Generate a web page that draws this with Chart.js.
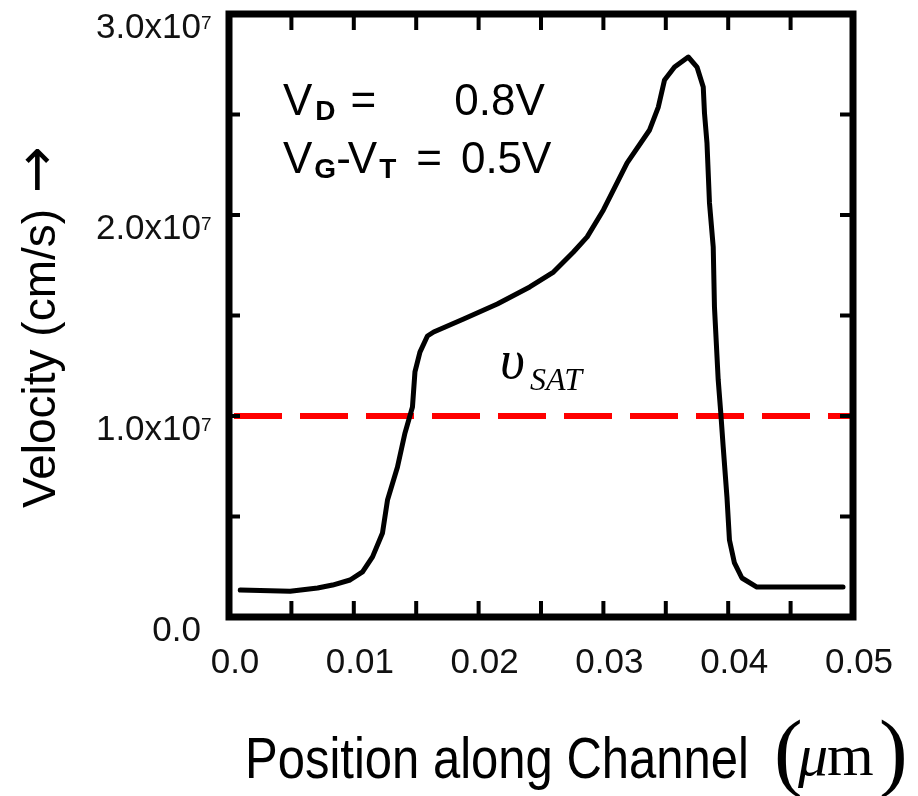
<!DOCTYPE html>
<html>
<head>
<meta charset="utf-8">
<script src="https://cdn.jsdelivr.net/npm/chart.js@4.4.1/dist/chart.umd.min.js"></script>
<style>
  html, body { margin: 0; padding: 0; background: #fff; }
</style>
</head>
<body>
<canvas id="velocity" width="918" height="796"></canvas>
<script>
// position along the channel (um) and carrier velocity (cm/s)
const position = [0.0009, 0.0049, 0.0071, 0.0083, 0.0097, 0.0107, 0.0115, 0.0123, 0.0127, 0.0135,
   0.0141, 0.0147, 0.0149, 0.0153, 0.0159, 0.0164, 0.0188, 0.0215, 0.0241, 0.0260,
   0.0276, 0.0287, 0.0300, 0.0319, 0.0337, 0.0344, 0.0349, 0.0357, 0.0368, 0.0375,
   0.0380, 0.0381, 0.0383, 0.0385, 0.0388, 0.0389, 0.0392, 0.0394, 0.0396, 0.0399,
   0.0401, 0.0405, 0.0411, 0.0423, 0.0492];
const velocity = [1.34e6, 1.28e6, 1.44e6, 1.59e6, 1.84e6, 2.24e6, 2.99e6, 4.18e6, 5.82e6, 7.46e6,
   9.15e6, 1.045e7, 1.219e7, 1.318e7, 1.398e7, 1.418e7, 1.483e7, 1.557e7, 1.642e7, 1.716e7,
   1.816e7, 1.891e7, 2.025e7, 2.259e7, 2.423e7, 2.537e7, 2.672e7, 2.736e7, 2.786e7, 2.736e7,
   2.637e7, 2.507e7, 2.358e7, 2.060e7, 1.841e7, 1.542e7, 1.179e7, 1.020e7, 8.46e6, 5.97e6,
   3.83e6, 2.69e6, 1.94e6, 1.49e6, 1.49e6];

// saturation velocity line
const satPosition = [0, 0.05];
const satVelocity = [1.0e7, 1.0e7];

const xTickLabels = ['0.0', '0.01', '0.02', '0.03', '0.04', '0.05'];
const yTickLabels = ['0.0', '1.0x10', '2.0x10', '3.0x10'];
const yTickExponent = ['', '7', '7', '7'];

const sans = 'Liberation Sans';
const serif = 'Liberation Serif';

// draws pieces of text one after another on the same baseline
function runText(ctx, x, y, parts) {
   parts.forEach(p => {
      ctx.font = p.font;
      x += p.gap || 0;
      ctx.fillText(p.text, x, y + (p.dy || 0));
      x += ctx.measureText(p.text).width;
   });
}

// box, inward ticks, exponents and the labels inside / around the plot
const frame = {
   id: 'frame',
   afterDatasetsDraw(chart) {
      const { ctx, chartArea: a, scales: { x, y } } = chart;
      ctx.save();
      ctx.strokeStyle = '#000';
      ctx.lineWidth = 4;
      ctx.beginPath();
      x.ticks.forEach(t => {
         const px = x.getPixelForValue(t.value);
         ctx.moveTo(px, a.bottom); ctx.lineTo(px, a.bottom - 16);
         ctx.moveTo(px, a.top); ctx.lineTo(px, a.top + 16);
      });
      y.ticks.forEach(t => {
         const py = y.getPixelForValue(t.value);
         ctx.moveTo(a.left, py); ctx.lineTo(a.left + 11, py);
         ctx.moveTo(a.right, py); ctx.lineTo(a.right - 13, py);
      });
      ctx.stroke();
      ctx.lineWidth = 7;
      ctx.strokeRect(a.left, a.top, a.right - a.left, a.bottom - a.top);

      ctx.fillStyle = '#111';
      ctx.textAlign = 'left';
      ctx.textBaseline = 'alphabetic';

      // exponents of the y tick labels
      ctx.font = '19px ' + sans;
      y.ticks.forEach(t => {
         const k = Math.round(t.value / 5e6);
         if (k % 2) return;
         const py = y.getPixelForValue(t.value);
         ctx.fillText(yTickExponent[k / 2], a.left - 28, py + 15);
      });

      ctx.fillStyle = '#000';
      const big = '44px ' + sans;
      const sub = 'bold 28px ' + sans;
      const x0 = a.left + 54;
      runText(ctx, x0, a.top + 101, [
         { text: 'V', font: big },
         { text: 'D', font: sub, dy: 5, gap: 3 },
         { text: '=', font: big, gap: 15 },
         { text: '0.8V', font: big, gap: 78 }
      ]);
      runText(ctx, x0, a.top + 159, [
         { text: 'V', font: big },
         { text: 'G', font: sub, dy: 5, gap: 2 },
         { text: '-', font: big },
         { text: 'V', font: big, gap: -3 },
         { text: 'T', font: sub, dy: 5, gap: 2 },
         { text: '=', font: big, gap: 20 },
         { text: '0.5V', font: big, gap: 19 }
      ]);

      // v_SAT label
      ctx.font = 'italic 54px ' + serif;
      ctx.fillText('\u03c5', a.left + 271, a.top + 364);
      ctx.font = 'italic 32px ' + serif;
      ctx.fillText('SAT', a.left + 301, a.top + 376);

      // y axis title
      ctx.save();
      ctx.translate(55, 508);
      ctx.rotate(-Math.PI / 2);
      runText(ctx, 0, 0, [
         { text: 'Velocity (cm/s)', font: '46px ' + sans },
         { text: '\u2192', font: '56px DejaVu Sans', gap: 16 }
      ]);
      ctx.restore();

      // x axis title, slightly tall like the original lettering
      ctx.save();
      ctx.translate(a.left + 16, 778);
      ctx.scale(1, 1.18);
      ctx.font = '49px ' + sans;
      ctx.fillText('Position along Channel', 0, 0);
      ctx.restore();
      ctx.font = '86px ' + serif;
      ctx.fillText('(', 774, 780);
      ctx.fillText(')', 879, 780);
      ctx.font = 'italic 60px ' + serif;
      ctx.fillText('\u03bc', 798, 775);
      ctx.font = '60px ' + serif;
      ctx.fillText('m', 827, 775);
      ctx.restore();
   }
};

const ctx = document.getElementById('velocity').getContext('2d');
const velocityChart = new Chart(ctx, {
   type: 'line',
   data: {
      datasets: [{
         label: 'velocity',
         data: position.map((p, i) => ({ x: p, y: velocity[i] })),
         borderColor: '#000',
         borderWidth: 5,
         borderJoinStyle: 'round',
         borderCapStyle: 'round',
         pointRadius: 0,
         tension: 0,
         fill: false
      }, {
         label: 'vsat',
         data: satPosition.map((p, i) => ({ x: p, y: satVelocity[i] })),
         borderColor: '#ff0000',
         borderWidth: 6,
         borderDash: [48, 18],
         borderDashOffset: -5,
         pointRadius: 0,
         fill: false
      }]
   },
   options: {
      responsive: false,
      animation: false,
      devicePixelRatio: 1,
      layout: {
         padding: { left: 0, right: 65, top: 14, bottom: 0 }
      },
      plugins: {
         legend: { display: false },
         tooltip: { enabled: false }
      },
      scales: {
         x: {
            type: 'linear',
            min: 0,
            max: 0.05,
            grid: { display: false, drawTicks: false },
            border: { display: false },
            ticks: {
               stepSize: 0.005,
               autoSkip: false,
               maxRotation: 0,
               padding: 25,
               labelOffset: 6,
               color: '#111',
               font: { family: sans, size: 35 },
               callback: v => {
                  const k = Math.round(v / 0.005);
                  return k % 2 ? '' : xTickLabels[k / 2];
               }
            },
            afterFit: s => {
               s.height = 179;
               s.paddingLeft = 0;
               s.paddingRight = 0;
            }
         },
         y: {
            min: 0,
            max: 3e7,
            grid: { display: false, drawTicks: false },
            border: { display: false },
            ticks: {
               stepSize: 5e6,
               autoSkip: false,
               padding: 28,
               labelOffset: 14,
               color: '#111',
               font: { family: sans, size: 35 },
               callback: v => {
                  const k = Math.round(v / 5e6);
                  return k % 2 ? '' : yTickLabels[k / 2];
               }
            },
            afterFit: s => {
               s.width = 229;
               s.paddingTop = 0;
               s.paddingBottom = 0;
            }
         }
      }
   },
   plugins: [frame]
});
</script>
</body>
</html>
